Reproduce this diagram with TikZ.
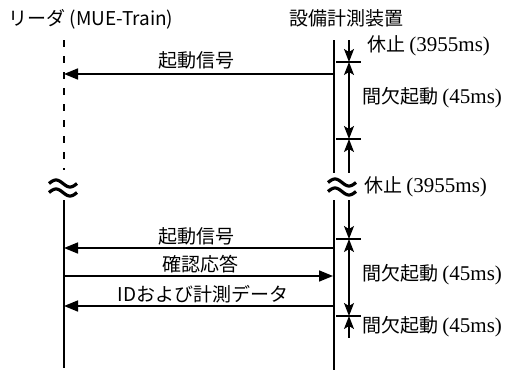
\documentclass[tikz,border=0pt]{standalone}
\usepackage{fontspec}
\setmainfont{Liberation Serif}
\newfontfamily\jpfont{Noto Sans CJK JP}
\usetikzlibrary{arrows.meta}
\tikzset{dtip/.tip={Stealth[length=13pt,width=10pt,inset=3pt]},
  mtip/.tip={Triangle[length=14pt,width=11pt]}}
\newcommand\msr[1]{{\rmfamily\fontsize{21}{21}\selectfont #1}}
\newcommand\apxsign[2]{%
  \draw[wave] plot[domain=-1:1,smooth,samples=25] ({#1+14*\x},{#2-4.5+3.5*sin(180*\x)});
  \draw[wave] plot[domain=-1:1,smooth,samples=25] ({#1+14*\x},{#2+4.5+3.5*sin(180*\x)});}
\begin{document}
\begin{tikzpicture}[x=1pt,y=-1pt,
  lbl/.style={font=\jpfont\fontsize{19}{19}\selectfont, inner sep=0pt},
  life/.style={line width=1.7pt},
  msg/.style={line width=1.6pt,-mtip},
  dim/.style={line width=1.4pt},
  tickline/.style={line width=1.3pt},
  wave/.style={line width=3.2pt}]
\useasboundingbox (0,0) rectangle (505,372);
% titles
\node[lbl] (tl) at (91,19) {リーダ (MUE-Train)};
\node[lbl] (tr) at (346,18) {設備計測装置};
% lifeline coordinates
\coordinate (L1) at (64,40);
\coordinate (L2) at (64,170);
\coordinate (L3) at (64,200);
\coordinate (L4) at (64,368);
\coordinate (R1) at (334,40);
\coordinate (R2) at (334,173);
\coordinate (R3) at (334,200);
\coordinate (R4) at (334,370);
\draw[life,dash pattern=on 7pt off 9pt] (L1) -- (L2);
\draw[life] (L3) -- (L4);
\draw[life] (R1) -- (R2);
\draw[life] (R3) -- (R4);
\apxsign{63}{188}
\apxsign{342}{187}
% message endpoints
\coordinate (m1r) at (334,74);  \coordinate (m1l) at (64,74);
\coordinate (m2r) at (334,248); \coordinate (m2l) at (64,248);
\coordinate (m3r) at (333,276); \coordinate (m3l) at (64,276);
\coordinate (m4r) at (334,306); \coordinate (m4l) at (64,306);
\draw[msg] (m1r) -- (m1l);
\draw[msg] (m2r) -- (m2l);
\draw[msg] (m3l) -- (m3r);
\draw[msg] (m4r) -- (m4l);
\node[lbl] (s1) at (196,60) {起動信号};
\node[lbl] (s2) at (196,236) {起動信号};
\node[lbl] (s3) at (200,264) {確認応答};
\node[lbl] (s4) at (203,294) {IDおよび計測データ};
% ticks
\coordinate (t1a) at (336,62);  \coordinate (t1b) at (361,62);
\coordinate (t2a) at (336,139); \coordinate (t2b) at (361,139);
\coordinate (t3a) at (336,239); \coordinate (t3b) at (361,239);
\coordinate (t4a) at (336,316); \coordinate (t4b) at (361,316);
\draw[tickline] (t1a) -- (t1b);
\draw[tickline] (t2a) -- (t2b);
\draw[tickline] (t3a) -- (t3b);
\draw[tickline] (t4a) -- (t4b);
% dimension line
\coordinate (d0) at (349,40);
\coordinate (d1) at (349,62);
\coordinate (d2) at (349,139);
\coordinate (d2b) at (349,173);
\coordinate (d3a) at (349,200);
\coordinate (d3) at (349,239);
\coordinate (d4) at (349,316);
\coordinate (d5) at (349,338);
\draw[dim,-dtip] (d0) -- (d1);
\draw[dim,dtip-dtip] (d1) -- (d2);
\draw[dim,dtip-] (d2) -- (d2b);
\draw[dim,-dtip] (d3a) -- (d3);
\draw[dim,dtip-dtip] (d3) -- (d4);
\draw[dim,dtip-] (d4) -- (d5);
% right labels
\node[lbl,anchor=west] (r1) at (367,46) {休止 \msr{(3955ms)}};
\node[lbl,anchor=west] (r2) at (362,98) {間欠起動 \msr{(45ms)}};
\node[lbl,anchor=west] (r3) at (364,187) {休止 \msr{(3955ms)}};
\node[lbl,anchor=west] (r4) at (362,275) {間欠起動 \msr{(45ms)}};
\node[lbl,anchor=west] (r5) at (362,327) {間欠起動 \msr{(45ms)}};
\end{tikzpicture}
\end{document}
